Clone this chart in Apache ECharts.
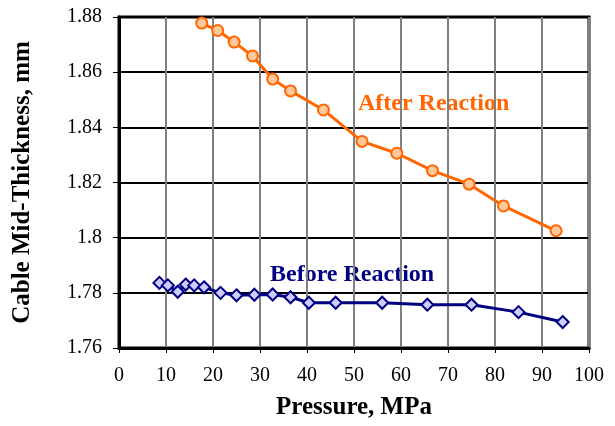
<!DOCTYPE html>
<html>
<head>
<meta charset="utf-8">
<script src="https://cdn.jsdelivr.net/npm/echarts@6/dist/echarts.min.js"></script>
<style>
    html, body { margin: 0; padding: 0; background: #fff; }
    #chart { width: 615px; height: 426px; }
</style>
</head>
<body>
<div id="chart"></div>
<script>
    // 数据：压力 (MPa) 与电缆中间厚度 (mm)
    const afterX = [17.6, 21.0, 24.5, 28.4, 32.7, 36.5, 43.5, 51.7, 59.1, 66.7, 74.5, 81.8, 93.0];
    const afterY = [1.8778, 1.8751, 1.8709, 1.8659, 1.8575, 1.8532, 1.8463, 1.8349, 1.8306, 1.8243, 1.8194, 1.8115, 1.8025];
    const beforeX = [8.6, 10.4, 12.5, 14.2, 16.0, 18.1, 21.6, 25.0, 28.8, 32.7, 36.5, 40.4, 46.1, 56.0, 65.6, 75.0, 85.0, 94.4];
    const beforeY = [1.7836, 1.7827, 1.7804, 1.7830, 1.7827, 1.7820, 1.7800, 1.7791, 1.7793, 1.7794, 1.7784, 1.7764, 1.7764, 1.7764, 1.7757, 1.7757, 1.7730, 1.7694];
    const seriesNames = ['After Reaction', 'Before Reaction'];

    const font = '"Liberation Serif", "Times New Roman", serif';

    function pairs(xs, ys) {
        return xs.map((x, i) => [x, ys[i]]);
    }

    let myChart = echarts.init(document.getElementById('chart'));
    myChart.setOption({
        animation: false,
        grid: {
            left: 119,
            right: 26,
            top: 17,
            bottom: 78,
            show: true,
            borderColor: '#000',
            borderWidth: 3
        },
        xAxis: {
            type: 'value',
            min: 0,
            max: 100,
            interval: 10,
            name: 'Pressure, MPa',
            nameLocation: 'middle',
            nameGap: 47,
            nameTextStyle: { fontFamily: font, fontWeight: 'bold', fontSize: 25, color: '#000' },
            axisLine: { show: true, lineStyle: { color: '#000', width: 3 } },
            axisTick: { show: true, length: 5, lineStyle: { color: '#000', width: 1 } },
            axisLabel: { fontFamily: font, fontSize: 20, color: '#000', margin: 18 },
            splitLine: { show: true, lineStyle: { color: '#808080', width: 2 } }
        },
        yAxis: {
            type: 'value',
            min: 1.76,
            max: 1.88,
            interval: 0.02,
            name: 'Cable Mid-Thickness, mm',
            nameLocation: 'middle',
            nameGap: 84,
            nameTextStyle: { fontFamily: font, fontWeight: 'bold', fontSize: 25, color: '#000' },
            axisLine: { show: true, lineStyle: { color: '#000', width: 3 } },
            axisTick: { show: true, length: 6, lineStyle: { color: '#000', width: 1 } },
            axisLabel: {
                fontFamily: font, fontSize: 20, color: '#000', margin: 17,
                formatter: v => String(parseFloat(v.toFixed(2)))
            },
            splitLine: { show: true, lineStyle: { color: '#000', width: 2 } }
        },
        graphic: [
            {
                type: 'text', left: 358, top: 92,
                style: { text: seriesNames[0], fill: '#FF6600', font: 'bold 24px ' + font }
            },
            {
                type: 'text', left: 270, top: 263,
                style: { text: seriesNames[1], fill: '#000080', font: 'bold 24px ' + font }
            }
        ],
        series: [
            {
                name: seriesNames[0],
                type: 'line',
                data: pairs(afterX, afterY),
                symbol: 'circle',
                symbolSize: 11,
                lineStyle: { color: '#FF6600', width: 3 },
                itemStyle: { color: '#FFC898', borderColor: '#FF6600', borderWidth: 2 },
                z: 5
            },
            {
                name: seriesNames[1],
                type: 'line',
                data: pairs(beforeX, beforeY),
                symbol: 'diamond',
                symbolSize: 12,
                lineStyle: { color: '#000080', width: 3 },
                itemStyle: { color: '#CCCCFF', borderColor: '#000080', borderWidth: 2 },
                z: 5
            }
        ]
    });
</script>
</body>
</html>
